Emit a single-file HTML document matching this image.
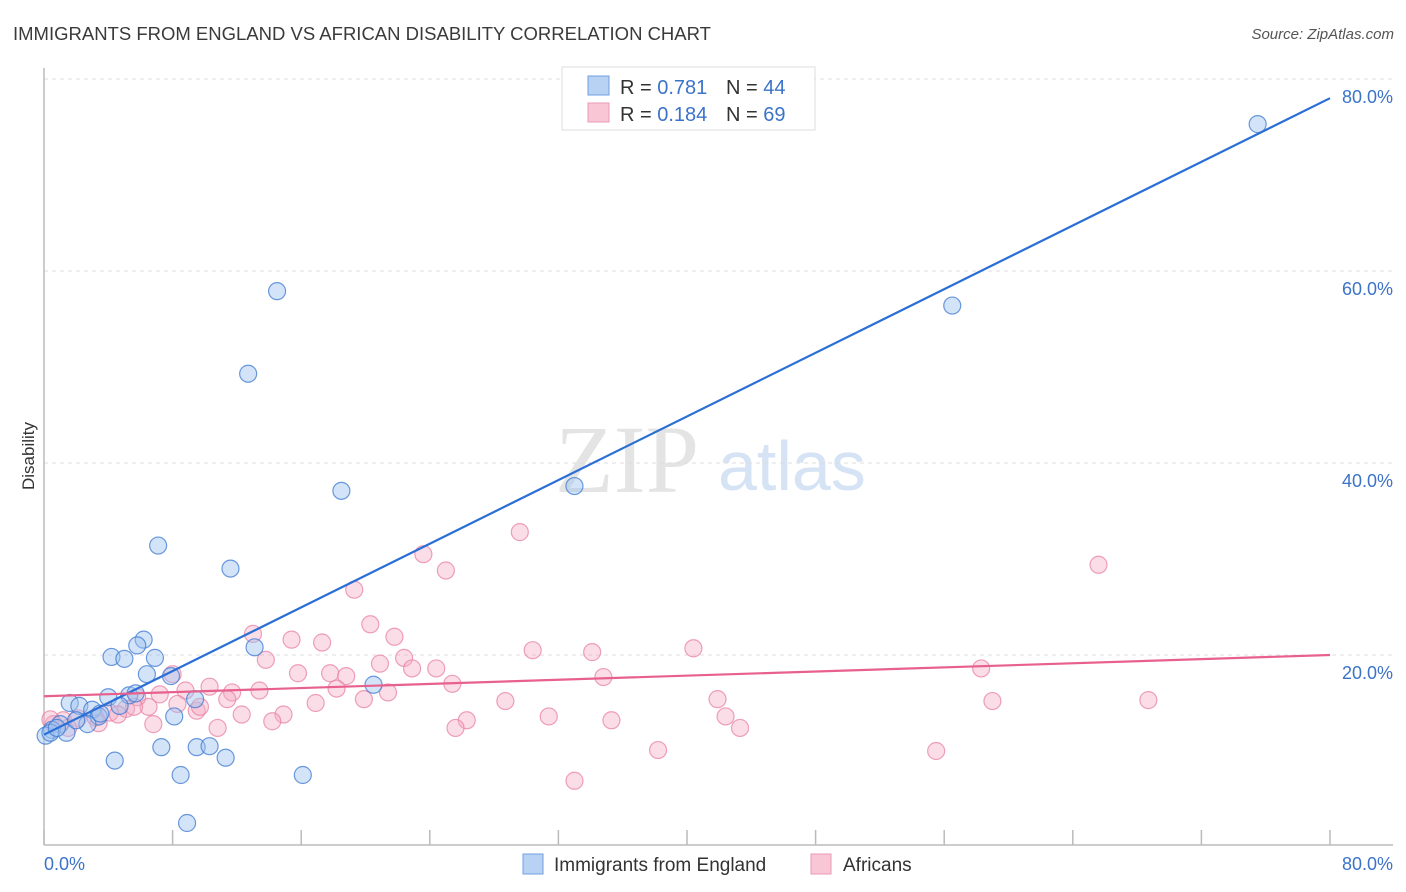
<!DOCTYPE html>
<html><head><meta charset="utf-8"><style>
body{margin:0;background:#fff;font-family:"Liberation Sans",sans-serif}
svg{display:block}
</style></head><body>
<svg id="chart" width="1406" height="892" viewBox="0 0 1406 892">
<text x="13" y="40" font-size="18.5" fill="#3a3a3a">IMMIGRANTS FROM ENGLAND VS AFRICAN DISABILITY CORRELATION CHART</text>
<text x="1394" y="39" font-size="15" font-style="italic" fill="#555" text-anchor="end">Source: ZipAtlas.com</text>
<g>
<text x="555" y="492" font-family="Liberation Serif,serif" font-size="96" fill="#e4e4e4">ZIP</text>
<text x="718" y="490" font-size="70" fill="#d5e3f5">atlas</text>
</g>
<g id="grid"></g>
<g id="axes"></g>
<g id="pts"></g>
<g id="lines"></g>
<g>
<rect x="562" y="67" width="253" height="63" fill="#fff" stroke="#ddd"/>
<rect x="588" y="76" width="21" height="19" fill="#b8d2f4" stroke="#6f9fe0"/>
<rect x="588" y="103" width="21" height="19" fill="#f8c6d4" stroke="#eb9ab3"/>
<text x="620" y="94" font-size="20" fill="#333">R = <tspan fill="#3b73c9">0.781</tspan><tspan x="726">N = </tspan><tspan fill="#3b73c9">44</tspan></text>
<text x="620" y="121" font-size="20" fill="#333">R = <tspan fill="#3b73c9">0.184</tspan><tspan x="726">N = </tspan><tspan fill="#3b73c9">69</tspan></text>
</g>
<g>
<rect x="523" y="854" width="20" height="20" fill="#b8d2f4" stroke="#6f9fe0"/>
<text x="554" y="871" font-size="19" fill="#333">Immigrants from England</text>
<rect x="811" y="854" width="20" height="20" fill="#f8c6d4" stroke="#eb9ab3"/>
<text x="843" y="871" font-size="19" fill="#333">Africans</text>
</g>
<text transform="translate(34,456) rotate(-90)" font-size="17" fill="#333" text-anchor="middle">Disability</text>
<text x="44" y="870" font-size="18" fill="#3b73c9">0.0%</text>
<text x="1393" y="870" font-size="18" fill="#3b73c9" text-anchor="end">80.0%</text>
</svg>
<script>
const blueX=[75.5,56.5,14.5,12.7,18.5,33.0,7.1,11.6,6.2,5.8,4.2,5.0,6.9,13.1,7.9,6.4,4.0,5.3,5.7,9.4,1.6,2.2,3.0,3.4,4.7,8.1,20.5,1.0,2.7,0.5,1.4,0.1,0.4,7.3,9.5,10.3,11.3,4.4,8.5,16.1,8.9,0.8,2.0,3.5];
const blueY=[75.3,56.4,57.9,49.3,37.1,37.6,31.4,29.0,21.6,21.0,19.8,19.6,19.7,20.8,17.8,18.0,15.6,15.8,16.0,15.4,15.0,14.7,14.3,13.6,14.7,13.6,16.9,12.8,12.8,12.2,11.9,11.6,11.9,10.4,10.4,10.5,9.3,9.0,7.5,7.5,2.5,12.4,13.2,13.9];
const pinkX=[29.6,23.6,25.0,65.6,19.3,20.3,13.0,15.4,17.3,21.8,30.4,34.1,40.4,13.8,8.0,15.8,17.8,18.8,20.9,22.4,22.9,24.4,25.4,58.3,34.8,18.2,10.3,8.8,11.7,13.4,11.4,16.9,19.9,21.4,28.7,41.9,59.0,68.7,1.2,2.1,3.2,4.1,5.1,6.5,8.3,9.5,9.7,7.2,5.8,12.3,14.9,14.2,6.8,3.4,1.5,0.6,0.4,26.3,25.6,31.4,35.3,42.4,43.3,10.8,38.2,55.5,33.0,5.6,4.6];
const pinkY=[32.8,30.5,28.8,29.4,26.8,23.2,22.2,21.6,21.3,21.9,20.5,20.3,20.7,19.5,18.0,18.1,18.1,17.8,19.1,19.7,18.6,18.6,17.0,18.6,17.7,16.5,16.7,16.3,16.1,16.3,15.4,15.0,15.4,16.1,15.2,15.4,15.2,15.3,13.2,13.4,13.5,14.0,14.4,14.6,14.9,14.2,14.6,15.9,15.6,13.8,13.8,13.1,12.8,12.9,12.4,12.8,13.3,13.2,12.4,13.6,13.2,13.6,12.4,12.4,10.1,10.0,6.9,14.6,13.8];
const blueTrend=[11.7,78.0];
const pinkTrend=[15.7,20.0];
const yTicks=[20,40,60,80];
const yTickLabels=["20.0%","40.0%","60.0%","80.0%"];
const xTicks=[0,8,16,24,32,40,48,56,64,72,80];
const NS="http://www.w3.org/2000/svg";
const sx=v=>44+v*16.075, sy=v=>847-v*9.6;
function mk(tag,attrs,parent){const e=document.createElementNS(NS,tag);for(const k in attrs)e.setAttribute(k,attrs[k]);document.getElementById(parent).appendChild(e);return e;}
yTicks.forEach((t,i)=>{
 const g=mk('line',{x1:44,x2:1393,y1:sy(t),y2:sy(t),stroke:'#ddd','stroke-dasharray':'4,4'},'grid');
 
 
 const l=mk('text',{x:1393,y:sy(t)+24,'font-size':18,fill:'#3b73c9','text-anchor':'end'},'grid');
 l.textContent=yTickLabels[i];
 
 
});
const ax=mk('line',{x1:44,x2:1393,y1:845,y2:845,stroke:'#bbb','stroke-width':1.5},'axes');


const ay=mk('line',{x1:44,x2:44,y1:68,y2:845,stroke:'#bbb','stroke-width':1.5},'axes');


xTicks.forEach(t=>{
 const k=mk('line',{x1:sx(t),x2:sx(t),y1:830,y2:845,stroke:'#bbb','stroke-width':1.5},'axes');
 
 
});
pinkX.forEach((x,i)=>{
 const c=mk('circle',{cx:sx(x),cy:sy(pinkY[i]),r:8.5,fill:'rgba(244,170,194,0.4)',stroke:'rgba(232,130,164,0.75)','stroke-width':1.2},'pts');
 
 
});
blueX.forEach((x,i)=>{
 const c=mk('circle',{cx:sx(x),cy:sy(blueY[i]),r:8.5,fill:'rgba(160,196,240,0.45)',stroke:'rgba(60,120,210,0.75)','stroke-width':1.2},'pts');
 
 
});
const bl=mk('line',{x1:sx(0),x2:sx(80),y1:sy(blueTrend[0]),y2:sy(blueTrend[1]),stroke:'#2a6fd6','stroke-width':2.2},'lines');


const pl=mk('line',{x1:sx(0),x2:sx(80),y1:sy(pinkTrend[0]),y2:sy(pinkTrend[1]),stroke:'#e8608c','stroke-width':2.2},'lines');


</script>
</body></html>
